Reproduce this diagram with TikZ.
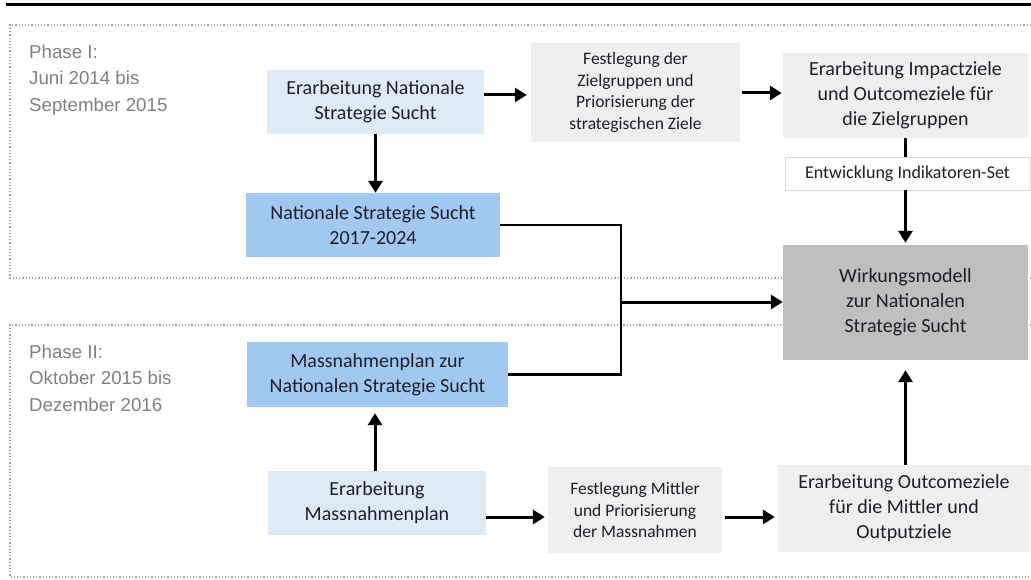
\documentclass[tikz,border=0pt]{standalone}
\usepackage{fontspec}
\setmainfont{Carlito}
\newfontfamily\arialfont{Liberation Sans}
\usetikzlibrary{arrows.meta}
\definecolor{lblue}{HTML}{DDEBF8}
\definecolor{mblue}{HTML}{A0C8F0}
\definecolor{lgray}{HTML}{EFEFEF}
\definecolor{dgray}{HTML}{BFBFBF}
\definecolor{txt}{HTML}{1E1E28}
\definecolor{phasetxt}{HTML}{808080}
\definecolor{dotc}{HTML}{A0A0A0}
\definecolor{bordc}{HTML}{D9D9D9}
\begin{document}
\begin{tikzpicture}[x=1pt,y=-1pt,
  box/.style={inner sep=0pt, align=center, text=txt},
  bigtext/.style={font=\fontsize{20}{25}\selectfont},
  smalltext/.style={font=\fontsize{17.5}{21.5}\selectfont},
  arr/.style={line width=3pt, -{Triangle[length=12pt,width=14pt]}},
  conn/.style={line width=2.6pt},
  phasebox/.style={dotc, dotted, line width=1.2pt},
  phasetext/.style={anchor=north west, align=left, text=phasetxt, inner sep=0pt,
    font=\arialfont\fontsize{18.7}{26.5}\selectfont}
]
\useasboundingbox (0,0) rectangle (1031,580);
% top rule
\draw[line width=3.5pt] (6,4.5) -- (1031,4.5);
% phase frames
\draw[phasebox] (1031,25) -- (10,25) -- (10,278) -- (1031,278);
\draw[phasebox] (1031,325) -- (10,325) -- (10,577) -- (1031,577);
\node[phasetext] (p1) at (29,44.5) {Phase I:\\Juni 2014 bis\\September 2015};
\node[phasetext] (p2) at (29,344.5) {Phase II:\\Oktober 2015 bis\\Dezember 2016};
% nodes
\node[box, bigtext, fill=dgray, minimum width=245pt, minimum height=115pt] (n6) at (905.5,302.5) {Wirkungsmodell\\zur Nationalen\\Strategie Sucht};
\node[box, bigtext, fill=lblue, minimum width=217pt, minimum height=64pt] (n1) at (375.5,102) {Erarbeitung Nationale\\Strategie Sucht};
\node[box, bigtext, fill=mblue, minimum width=254pt, minimum height=64pt] (n2) at (373,225) {Nationale Strategie Sucht\\2017-2024};
\node[box, smalltext, fill=lgray, minimum width=209pt, minimum height=99pt] (n3) at (635.5,92.5) {Festlegung der\\Zielgruppen und\\Priorisierung der\\strategischen Ziele};
\node[box, bigtext, fill=lgray, minimum width=245pt, minimum height=85pt] (n4) at (905.5,95.5) {Erarbeitung Impactziele\\und Outcomeziele für\\die Zielgruppen};
\node[box, font=\fontsize{18}{22}\selectfont, fill=white, draw=bordc, line width=0.8pt, minimum width=245pt, minimum height=33pt] (n5) at (907.5,173.5) {Entwicklung Indikatoren-Set};
\node[box, bigtext, fill=mblue, minimum width=261pt, minimum height=65pt] (n7) at (377.5,374.5) {Massnahmenplan zur\\Nationalen Strategie Sucht};
\node[box, bigtext, fill=lblue, minimum width=218pt, minimum height=64pt] (n8) at (377,503) {Erarbeitung\\Massnahmenplan};
\node[box, smalltext, fill=lgray, minimum width=174pt, minimum height=86pt] (n9) at (635,510) {Festlegung Mittler\\und Priorisierung\\der Massnahmen};
\node[box, bigtext, fill=lgray, minimum width=252pt, minimum height=87pt] (n10) at (904,508.5) {Erarbeitung Outcomeziele\\für die Mittler und\\Outputziele};
% connectors
\coordinate (j1) at (621,302);
\draw[conn] (n2.east) -| (j1) |- (n7.east);
\draw[arr] (j1) -- (j1 -| n6.west);
\draw[arr, shorten >=4pt] (n1.east |- 0,95) -- (n3.west |- 0,95);
\draw[arr, shorten <=2pt, shorten >=1pt] (n3.east |- 0,93) -- (n4.west |- 0,93);
\draw[arr] (n1.south) -- (n1.south |- n2.north);
\draw[conn] (n4.south -| n6.north) -- (n5.north -| n6.north);
\draw[arr, shorten >=2pt] (n5.south -| n6.north) -- (n6.north);
\draw[arr, shorten >=6pt] (n8.north -| 375,0) -- (n7.south -| 375,0);
\draw[arr, shorten >=3pt] (n8.east |- 0,517) -- (n9.west |- 0,517);
\draw[arr, shorten <=3pt, shorten >=3pt] (n9.east |- 0,517) -- (n10.west |- 0,517);
\draw[arr, shorten >=10pt] (n10.north -| n6.south) -- (n6.south);
\end{tikzpicture}
\end{document}
